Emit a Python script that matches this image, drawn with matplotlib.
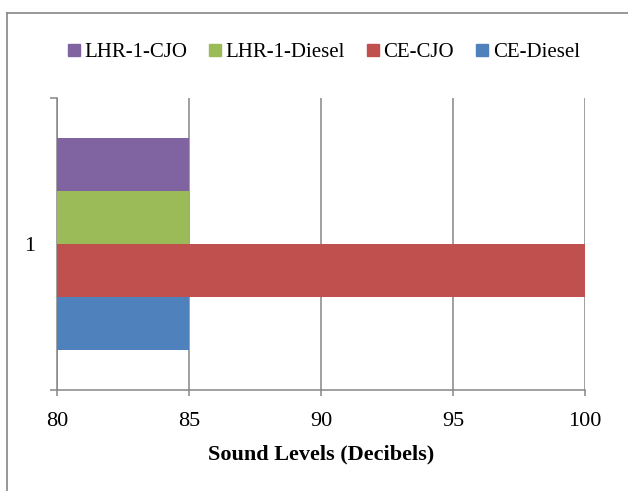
import matplotlib
matplotlib.use("Agg")
import matplotlib.pyplot as plt
from matplotlib.lines import Line2D
import numpy as np

# series, bottom to top inside the single category
series = ["CE-Diesel", "CE-CJO", "LHR-1-Diesel", "LHR-1-CJO"]
values = [85, 100, 85, 85]
colors = ["#4F81BD", "#C0504D", "#9BBB59", "#8064A2"]
category = ["1"]
x_ticks = [80, 85, 90, 95, 100]

plt.rcParams["font.family"] = ["Liberation Serif", "DejaVu Serif"]
grey = "#868686"

fig = plt.figure(figsize=(6.28, 4.91), dpi=100)
ax = fig.add_axes([57 / 628, 1 - 390 / 491, (585 - 57) / 628, (390 - 98) / 491])

group = 0.726
h = group / len(series)
offsets = -group / 2 + h / 2 + np.arange(len(series)) * h
handles = []
for off, s, v, c in zip(offsets, series, values, colors):
    ax.barh(0 + off, v - 80, left=80, height=h, color=c, zorder=3)
    handles.append(Line2D([], [], marker="s", linestyle="none", markersize=8.5,
                          markerfacecolor=c, markeredgecolor=c, label=s))

ax.set_xlim(80, 100)
ax.set_ylim(-0.5, 0.5)
ax.set_xticks(x_ticks)
ax.set_xticklabels([str(t) for t in x_ticks], fontsize=16)
ax.set_yticks([0])
ax.set_yticklabels(category, fontsize=16)
ax.set_yticks([-0.5, 0.5], minor=True)
ax.tick_params(axis="y", which="major", length=0, pad=16)
ax.tick_params(axis="y", which="minor", length=5, width=1.1, color=grey)
ax.tick_params(axis="x", length=4.5, width=1.1, color=grey, pad=11)

ax.grid(axis="x", color=grey, linewidth=1.1, zorder=0)
for side in ["top", "right"]:
    ax.spines[side].set_visible(False)
for side in ["left", "bottom"]:
    ax.spines[side].set_color(grey)
    ax.spines[side].set_linewidth(1.1)

ax.set_xlabel("Sound Levels (Decibels)", fontsize=16, fontweight="bold", labelpad=10)

fig.legend(handles=handles[::-1], loc="center", bbox_to_anchor=(323 / 628, 1 - 52 / 491),
           ncol=4, frameon=False, fontsize=15, handletextpad=0.15, columnspacing=1.0,
           handlelength=0.7)

# chart area border (top and left edges visible)
fig.add_artist(Line2D([7 / 628, 7 / 628], [0, 1 - 13 / 491], transform=fig.transFigure,
                      color=grey, linewidth=1.2))
fig.add_artist(Line2D([7 / 628, 1], [1 - 13 / 491, 1 - 13 / 491], transform=fig.transFigure,
                      color=grey, linewidth=1.2))

fig.savefig("out.png", dpi=100)
